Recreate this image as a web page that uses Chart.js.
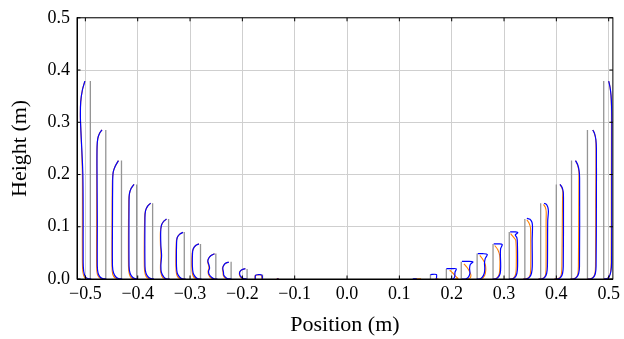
<!DOCTYPE html>
<html>
<head>
<meta charset="utf-8">
<script src="https://cdn.jsdelivr.net/npm/chart.js@4.4.0/dist/chart.umd.min.js"></script>
<style>
  html, body { margin: 0; padding: 0; background: #fff; }
</style>
</head>
<body>
<canvas id="profileChart" width="624" height="339"></canvas>
<script>
// axis ticks
const xTicks = [-0.5, -0.4, -0.3, -0.2, -0.1, 0.0, 0.1, 0.2, 0.3, 0.4, 0.5];
const yTicks = [0.0, 0.1, 0.2, 0.3, 0.4, 0.5];

// gray reference columns (position, height)
const columnX = [-0.4905, -0.461, -0.431, -0.402, -0.3715, -0.341, -0.311, -0.280, -0.2507, -0.2215, -0.191, -0.1615, -0.1326,
                 0.4905, 0.4594, 0.429, 0.3999, 0.370, 0.3398, 0.310, 0.279, 0.2486, 0.2183, 0.1898, 0.1594, 0.1298];
const columnH = [0.379, 0.285, 0.227, 0.181, 0.145, 0.115, 0.090, 0.067, 0.049, 0.033, 0.019, 0.0085, 0.0015,
                 0.379, 0.285, 0.227, 0.181, 0.145, 0.115, 0.090, 0.067, 0.049, 0.033, 0.019, 0.0085, 0.0015];

// blue profiles [x, y]
const blueProfiles = [
  [[-0.5009,0.3788],[-0.5057,0.3618],[-0.5089,0.339],[-0.5095,0.3106],[-0.5085,0.2821],[-0.5066,0.2442],[-0.5047,0.1968],[-0.5042,0.1115],[-0.5042,0.0319],[-0.5032,0.0148],[-0.5,0.0044],[-0.4943,0.0005],[-0.4886,0]],
  [[-0.4683,0.2854],[-0.4728,0.2789],[-0.4763,0.2689],[-0.4776,0.2537],[-0.4778,0.2158],[-0.4772,0.1115],[-0.4772,0.0243],[-0.4757,0.011],[-0.4715,0.0034],[-0.4658,0.0005],[-0.4601,0]],
  [[-0.4368,0.2266],[-0.443,0.2158],[-0.4468,0.2044],[-0.4478,0.1873],[-0.4482,0.1115],[-0.4482,0.0243],[-0.4459,0.011],[-0.4411,0.0034],[-0.4354,0.0005],[-0.4297,0]],
  [[-0.407,0.1811],[-0.4127,0.1731],[-0.4159,0.1627],[-0.4165,0.1494],[-0.4165,0.0243],[-0.4146,0.011],[-0.4098,0.0034],[-0.4041,0.0005],[-0.3994,0]],
  [[-0.3753,0.1451],[-0.3813,0.139],[-0.3851,0.1305],[-0.3861,0.1172],[-0.3861,0.0243],[-0.3842,0.011],[-0.3794,0.0034],[-0.3737,0.0005],[-0.369,0]],
  [[-0.3449,0.1147],[-0.351,0.1096],[-0.3548,0.102],[-0.3561,0.0887],[-0.3557,0.0641],[-0.3544,0.0451],[-0.3557,0.0262],[-0.3548,0.0129],[-0.35,0.0034],[-0.3443,0],[-0.3386,0]],
  [[-0.3134,0.0893],[-0.3196,0.0859],[-0.3244,0.0793],[-0.3257,0.0698],[-0.3259,0.0243],[-0.3244,0.011],[-0.3196,0.0034],[-0.3139,0],[-0.3082,0]],
  [[-0.283,0.0673],[-0.2893,0.0641],[-0.294,0.0575],[-0.2953,0.0489],[-0.2955,0.0243],[-0.294,0.011],[-0.2893,0.0034],[-0.2836,0],[-0.2779,0]],
  [[-0.2532,0.0484],[-0.2598,0.0451],[-0.2646,0.0394],[-0.2659,0.0338],[-0.2636,0.0262],[-0.2627,0.0205],[-0.2646,0.0148],[-0.2636,0.0091],[-0.2589,0.0034],[-0.2532,0],[-0.2475,0]],
  [[-0.226,0.0324],[-0.2323,0.03],[-0.2361,0.0252],[-0.2374,0.0205],[-0.2361,0.0129],[-0.2355,0.0072],[-0.2313,0.0025],[-0.2266,0.0003],[-0.2209,0]],
  [[-0.1943,0.0199],[-0.201,0.0176],[-0.2048,0.0138],[-0.2051,0.0091],[-0.2029,0.0044],[-0.1981,0.0009],[-0.1915,0]],
  [[-0.1753,0],[-0.1748,0.0072],[-0.1696,0.0082],[-0.1639,0.0082],[-0.162,0.0053],[-0.162,0.0004]],
  [[-0.1335,0.0004],[-0.131,0.0004]],
  [[0.5,0.3788],[0.5025,0.3675],[0.5045,0.3517],[0.5056,0.3295],[0.506,0.3011],[0.5058,0.1873],[0.5056,0.0319],[0.5043,0.0148],[0.501,0.0044],[0.4962,0.0006],[0.4911,0]],
  [[0.4696,0.2854],[0.473,0.2783],[0.4755,0.267],[0.4765,0.2499],[0.4765,0.1494],[0.4759,0.0243],[0.4746,0.011],[0.4711,0.0034],[0.4654,0],[0.4598,0]],
  [[0.4366,0.2266],[0.4408,0.2186],[0.4436,0.2063],[0.4444,0.1934],[0.4442,0.0243],[0.4427,0.011],[0.4389,0.0034],[0.4332,0],[0.4275,0]],
  [[0.407,0.1811],[0.411,0.175],[0.4132,0.1665],[0.4136,0.1532],[0.4132,0.0243],[0.4119,0.011],[0.4085,0.0034],[0.4028,0],[0.3971,0]],
  [[0.3766,0.1451],[0.381,0.1428],[0.3838,0.1371],[0.3848,0.1286],[0.3835,0.1115],[0.3829,0.0243],[0.3815,0.011],[0.3781,0.0034],[0.3724,0],[0.3667,0]],
  [[0.3436,0.1162],[0.3496,0.1143],[0.3534,0.1086],[0.3544,0.1001],[0.3538,0.0736],[0.354,0.0243],[0.3525,0.011],[0.3487,0.0034],[0.343,0],[0.3373,0]],
  [[0.3117,0.0901],[0.3221,0.0901],[0.3265,0.0885],[0.3215,0.0845],[0.3245,0.0793],[0.3255,0.0698],[0.3259,0.0243],[0.3246,0.011],[0.3212,0.0034],[0.3155,0],[0.3098,0]],
  [[0.2803,0.0673],[0.2898,0.0673],[0.2965,0.066],[0.2936,0.0584],[0.293,0.0489],[0.2936,0.0243],[0.2927,0.011],[0.2889,0.0034],[0.2832,0],[0.2784,0]],
  [[0.2499,0.0484],[0.2594,0.0484],[0.268,0.047],[0.2642,0.0394],[0.2627,0.03],[0.2632,0.0205],[0.2623,0.011],[0.2585,0.0034],[0.2537,0],[0.248,0]],
  [[0.2196,0.0338],[0.231,0.0338],[0.2405,0.0328],[0.2357,0.0281],[0.2342,0.0205],[0.2348,0.011],[0.2319,0.0034],[0.2262,0],[0.2196,0]],
  [[0.1898,0.0199],[0.2006,0.0199],[0.2088,0.0195],[0.2063,0.0129],[0.2057,0.004],[0.2025,0],[0.1968,0]],
  [[0.1594,0.0085],[0.1708,0.0085],[0.1708,0.0006]],
  [[0.1256,0.0004],[0.1332,0.0004]]
];

// orange profiles [x, y]
const orangeProfiles = [
  [[-0.5009,0.3788],[-0.5057,0.3618],[-0.5089,0.339],[-0.5095,0.3106],[-0.5085,0.2821],[-0.507,0.2442],[-0.5057,0.1968],[-0.5057,0.1115],[-0.5057,0.0319],[-0.5047,0.0129],[-0.5019,0.0034],[-0.4962,0.0003],[-0.4905,0]],
  [[-0.4683,0.2854],[-0.4728,0.2789],[-0.4763,0.2689],[-0.4776,0.2537],[-0.4782,0.2158],[-0.4785,0.1115],[-0.4785,0.0243],[-0.4772,0.0091],[-0.4734,0.0025],[-0.4677,0.0003],[-0.462,0]],
  [[-0.4368,0.2266],[-0.443,0.2158],[-0.4468,0.2044],[-0.4484,0.1873],[-0.4491,0.1115],[-0.4491,0.0243],[-0.4478,0.0091],[-0.443,0.0019],[-0.4373,0.0003],[-0.4316,0]],
  [[-0.407,0.1811],[-0.4127,0.1731],[-0.4159,0.1627],[-0.4172,0.1494],[-0.4176,0.0243],[-0.4159,0.0091],[-0.4117,0.0019],[-0.406,0.0003],[-0.4013,0]],
  [[-0.3753,0.1451],[-0.3813,0.139],[-0.3851,0.1305],[-0.3868,0.1172],[-0.3874,0.0243],[-0.3856,0.0091],[-0.3813,0.0019],[-0.3756,0.0003],[-0.3709,0]],
  [[-0.3449,0.1147],[-0.351,0.1096],[-0.3548,0.102],[-0.3567,0.0887],[-0.3565,0.0641],[-0.3555,0.0451],[-0.3565,0.0262],[-0.3561,0.0129],[-0.352,0.0025],[-0.3462,0.0003],[-0.3405,0]],
  [[-0.3134,0.0893],[-0.3196,0.0859],[-0.3244,0.0793],[-0.3263,0.0698],[-0.327,0.0243],[-0.3257,0.0091],[-0.3215,0.0019],[-0.3158,0.0003],[-0.3101,0]],
  [[-0.283,0.0673],[-0.2893,0.0641],[-0.294,0.0575],[-0.296,0.0489],[-0.2966,0.0243],[-0.2953,0.0091],[-0.2912,0.0019],[-0.2855,0.0003],[-0.2798,0]],
  [[-0.2532,0.0484],[-0.2598,0.0451],[-0.2646,0.0394],[-0.2665,0.0338],[-0.2646,0.0262],[-0.2638,0.0205],[-0.2655,0.0148],[-0.2648,0.0091],[-0.2608,0.0025],[-0.2551,0.0003],[-0.2494,0]],
  [[-0.226,0.0324],[-0.2323,0.03],[-0.2361,0.0252],[-0.2381,0.0205],[-0.237,0.0129],[-0.2365,0.0072],[-0.2328,0.0019],[-0.2285,0.0003],[-0.2228,0]],
  [[-0.1943,0.0199],[-0.201,0.0176],[-0.2048,0.0138],[-0.2058,0.0091],[-0.204,0.004],[-0.1995,0.0008],[-0.193,0]],
  [[-0.1758,0],[-0.1755,0.0065],[-0.1705,0.0078],[-0.1648,0.0078],[-0.163,0.005],[-0.1625,0]],
  [[-0.1345,0.0008],[-0.1305,0.0008]],
  [[0.5,0.3788],[0.5025,0.3675],[0.5043,0.3517],[0.5052,0.3295],[0.5053,0.3011],[0.505,0.1873],[0.5047,0.0319],[0.5035,0.0129],[0.5,0.0034],[0.495,0.0003],[0.4905,0]],
  [[0.4696,0.2854],[0.473,0.2783],[0.4752,0.267],[0.4757,0.2499],[0.4752,0.1494],[0.4748,0.0243],[0.4735,0.0091],[0.4695,0.0025],[0.464,0.0003],[0.459,0]],
  [[0.4366,0.2266],[0.4405,0.2186],[0.443,0.2063],[0.4431,0.1934],[0.4421,0.0243],[0.441,0.0091],[0.4375,0.0025],[0.4318,0.0003],[0.426,0]],
  [[0.407,0.1811],[0.4105,0.175],[0.4122,0.1665],[0.4118,0.1532],[0.4106,0.0243],[0.4095,0.0091],[0.4065,0.0025],[0.401,0.0003],[0.3955,0]],
  [[0.3755,0.1428],[0.379,0.1371],[0.3806,0.1286],[0.3804,0.1115],[0.3804,0.0243],[0.3795,0.0091],[0.3765,0.0025],[0.371,0.0003],[0.365,0]],
  [[0.3436,0.1134],[0.3475,0.1075],[0.3505,0.0985],[0.3511,0.0736],[0.3511,0.0243],[0.3502,0.0091],[0.347,0.0025],[0.3415,0.0003],[0.336,0]],
  [[0.3125,0.0868],[0.3174,0.0812],[0.3225,0.0736],[0.3234,0.0243],[0.3222,0.0091],[0.318,0.0015],[0.3117,0]],
  [[0.2822,0.0641],[0.2879,0.0565],[0.2917,0.0451],[0.2921,0.0243],[0.2908,0.0091],[0.286,0.0015],[0.2803,0]],
  [[0.2537,0.0451],[0.2594,0.0375],[0.2642,0.0281],[0.2651,0.0167],[0.2632,0.0072],[0.2575,0.0006],[0.2518,0]],
  [[0.2234,0.029],[0.2291,0.0224],[0.2338,0.0148],[0.2367,0.0072],[0.2348,0.0015],[0.2291,0]],
  [[0.1962,0.0167],[0.2025,0.011],[0.2082,0.0044],[0.212,0.0009],[0.2063,0]],
  [[0.1688,0.0006],[0.1745,0.0006]],
  [[0.1315,0.0006],[0.1415,0.0006]]
];

const serif = "'Liberation Serif', 'DejaVu Serif', serif";

function fmtTick(v) {
  return (v < 0 ? '\u2212' : '') + Math.abs(v).toFixed(1);
}

const datasets = [];
blueProfiles.forEach(function (c) {
  datasets.push({
    data: c.map(p => ({ x: p[0], y: p[1] })),
    borderColor: '#0000ff', borderWidth: 1.2, tension: 0.3, order: 0
  });
});
orangeProfiles.forEach(function (c) {
  datasets.push({
    data: c.map(p => ({ x: p[0], y: p[1] })),
    borderColor: '#ff8000', borderWidth: 1.1, tension: 0.3, order: 1
  });
});
columnX.forEach(function (x, i) {
  datasets.push({
    data: [{ x: x, y: 0 }, { x: x, y: columnH[i] }],
    borderColor: '#959595', borderWidth: 1.3, tension: 0, order: 2
  });
});

// frame + inner tick marks like pgfplots
const framePlugin = {
  id: 'frame',
  afterDatasetsDraw(chart) {
    const { ctx, chartArea: a, scales } = chart;
    ctx.save();
    ctx.strokeStyle = '#000';
    ctx.lineWidth = 1;
    ctx.strokeRect(a.left, a.top, a.right - a.left, a.bottom - a.top);
    ctx.beginPath();
    xTicks.forEach(v => {
      const px = scales.x.getPixelForValue(v);
      ctx.moveTo(px, a.bottom); ctx.lineTo(px, a.bottom - 3.5);
      ctx.moveTo(px, a.top); ctx.lineTo(px, a.top + 3.5);
    });
    yTicks.forEach(v => {
      const py = scales.y.getPixelForValue(v);
      ctx.moveTo(a.left, py); ctx.lineTo(a.left + 3.5, py);
      ctx.moveTo(a.right, py); ctx.lineTo(a.right - 3.5, py);
    });
    ctx.stroke();
    ctx.restore();
  }
};

new Chart(document.getElementById('profileChart'), {
  type: 'scatter',
  data: { datasets: datasets },
  options: {
    responsive: false,
    animation: false,
    showLine: true,
    layout: { padding: { top: 15, right: 8, left: 0, bottom: 0 } },
    elements: { point: { radius: 0, hoverRadius: 0 } },
    plugins: { legend: { display: false }, tooltip: { enabled: false } },
    scales: {
      x: {
        type: 'linear', min: -0.516, max: 0.508,
        afterBuildTicks: s => { s.ticks = xTicks.map(v => ({ value: v })); },
        afterFit: s => { s.height = 60; },
        ticks: { callback: fmtTick, color: '#000', padding: 4, maxRotation: 0, autoSkip: false,
                 font: { family: serif, size: 18 } },
        grid: { color: '#cfcfcf', drawTicks: false },
        border: { color: '#000', width: 1 },
        title: { display: true, text: 'Position (m)', color: '#000',
                 font: { family: serif, size: 22 }, padding: { top: 0, bottom: 1 } }
      },
      y: {
        type: 'linear', min: 0, max: 0.5,
        afterBuildTicks: s => { s.ticks = yTicks.map(v => ({ value: v })); },
        afterFit: s => { s.width = 77; },
        ticks: { callback: fmtTick, color: '#000', padding: 7,
                 font: { family: serif, size: 18 } },
        grid: { color: '#cfcfcf', drawTicks: false },
        border: { color: '#000', width: 1 },
        title: { display: true, text: 'Height (m)', color: '#000',
                 font: { family: serif, size: 22 }, padding: { top: 7, bottom: 0 } }
      }
    }
  },
  plugins: [framePlugin]
});
</script>
</body>
</html>
